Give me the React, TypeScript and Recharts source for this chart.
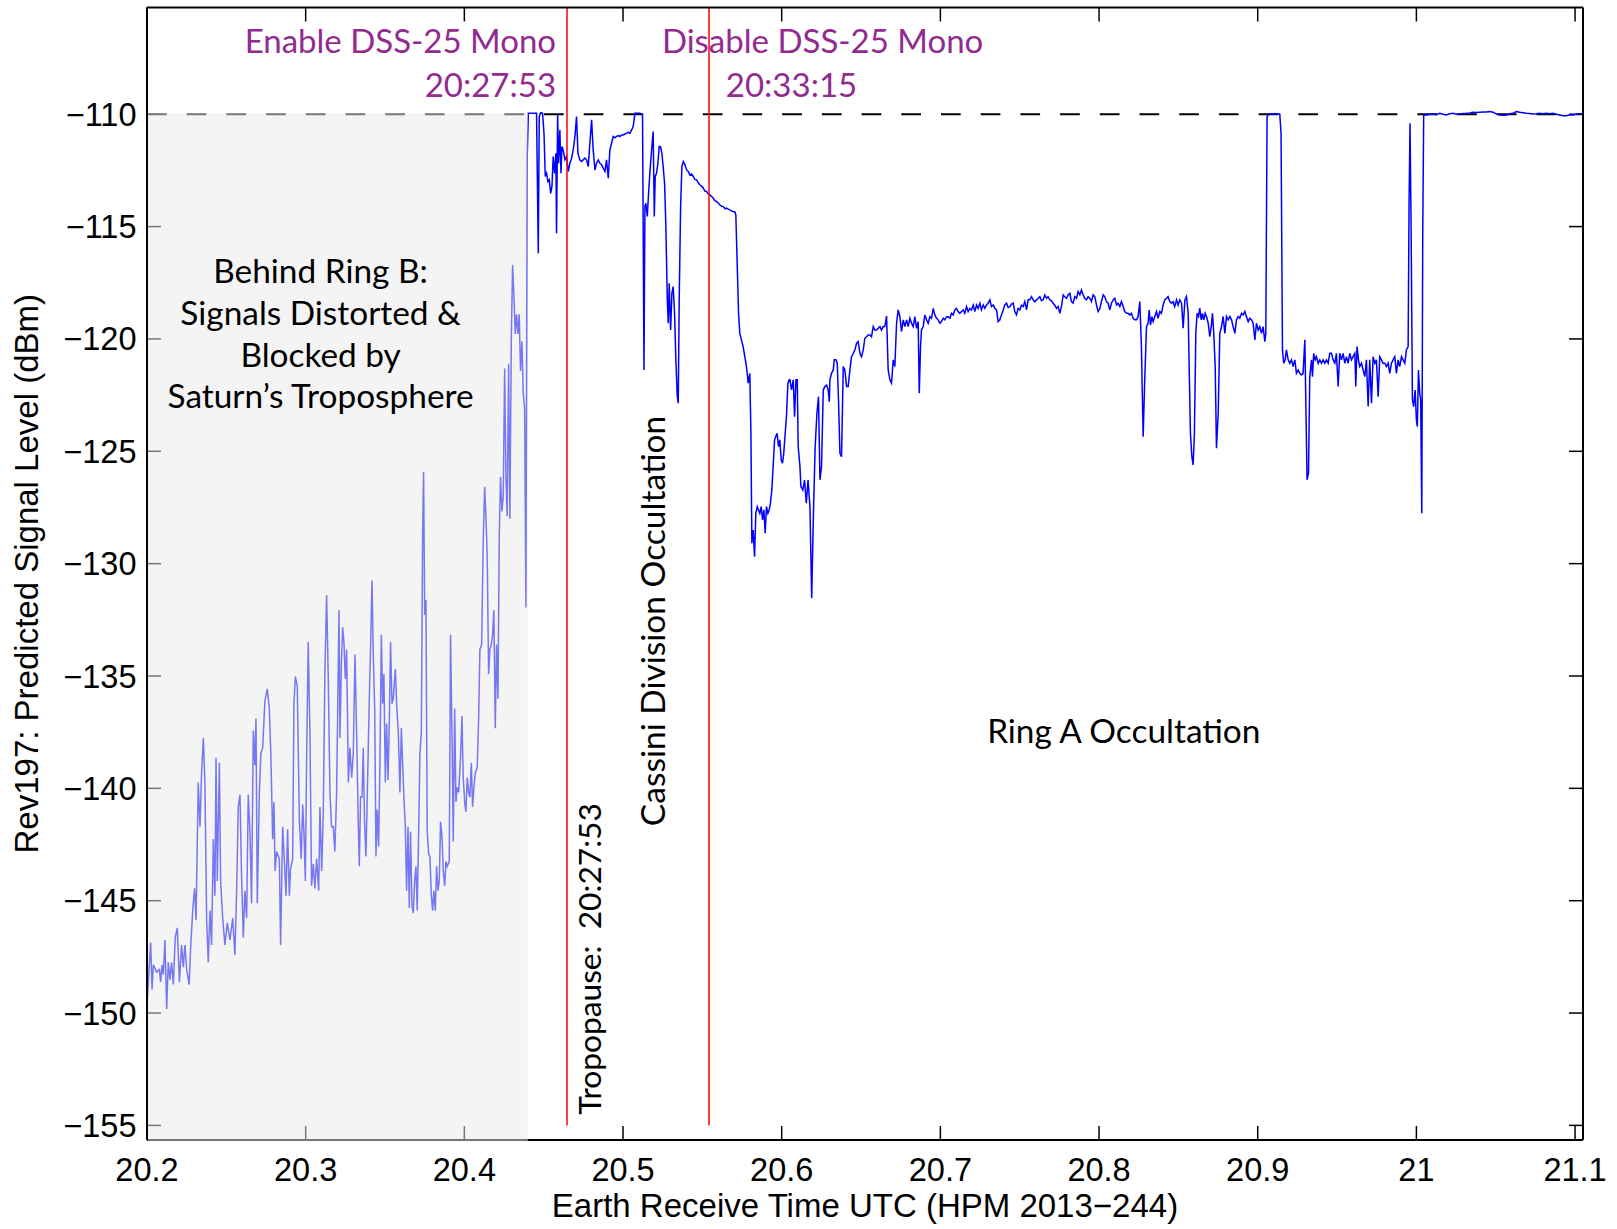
import React from "react";
import { LineChart, Line, XAxis, YAxis, ReferenceLine, ReferenceArea, ReferenceDot } from "recharts";

// Rev197 predicted signal level vs. Earth receive time (HPM, 2013-244)
const xTicks = [20.2, 20.3, 20.4, 20.5, 20.6, 20.7, 20.8, 20.9, 21.0, 21.1];
const yTicks = [-155, -150, -145, -140, -135, -130, -125, -120, -115, -110];
const xDomain = [20.2, 21.105];
const yDomain = [-155.65, -105.25];

const saturation = -110;
const tropopause = 20.4647; // 20:27:53
const monoOff = 20.5542; // 20:33:15
const ringBEnd = 20.44;

// behind ring B (faded by the shading)
const ringB: [number, number][] = [
  [20.2002,-149.39],[20.2023,-146.86],[20.2032,-148.95],[20.2040,-147.85],[20.2061,-148.18],[20.2078,-148.07],[20.2086,-148.62],[20.2095,-147.85],
  [20.2103,-148.29],[20.2113,-146.75],[20.2124,-149.82],[20.2134,-147.74],[20.2145,-148.51],[20.2155,-147.74],[20.2166,-148.73],[20.2178,-146.64],
  [20.2191,-146.21],[20.2204,-148.62],[20.2218,-146.97],[20.2229,-147.96],[20.2239,-146.97],[20.2250,-148.07],[20.2266,-148.73],[20.2275,-147.08],
  [20.2288,-145.44],[20.2300,-144.45],[20.2309,-145.87],[20.2323,-139.74],[20.2334,-141.71],[20.2344,-139.30],[20.2355,-137.76],[20.2365,-139.74],
  [20.2376,-145.87],[20.2386,-147.74],[20.2397,-145.44],[20.2407,-146.97],[20.2418,-142.26],[20.2428,-144.78],[20.2435,-138.64],[20.2443,-144.12],
  [20.2456,-138.86],[20.2464,-144.12],[20.2477,-145.77],[20.2491,-146.97],[20.2506,-145.99],[20.2523,-146.75],[20.2540,-145.77],[20.2554,-147.41],
  [20.2565,-144.56],[20.2575,-140.83],[20.2586,-140.29],[20.2596,-143.90],[20.2607,-146.64],[20.2617,-144.56],[20.2628,-145.77],[20.2638,-140.29],
  [20.2649,-141.93],[20.2659,-145.11],[20.2670,-137.43],[20.2680,-138.97],[20.2687,-136.89],[20.2695,-145.11],[20.2708,-140.18],[20.2718,-138.42],
  [20.2729,-138.20],[20.2743,-136.12],[20.2758,-135.57],[20.2771,-136.45],[20.2781,-138.64],[20.2792,-142.26],[20.2800,-140.61],[20.2807,-143.68],
  [20.2817,-142.81],[20.2834,-143.14],[20.2842,-146.97],[20.2855,-141.71],[20.2863,-142.81],[20.2876,-144.78],[20.2886,-141.82],[20.2897,-144.78],
  [20.2905,-143.57],[20.2918,-143.14],[20.2926,-136.23],[20.2935,-135.02],[20.2947,-135.46],[20.2960,-141.38],[20.2972,-143.14],[20.2981,-140.72],
  [20.2989,-141.93],[20.2998,-144.12],[20.3006,-138.64],[20.3016,-133.49],[20.3027,-137.54],[20.3037,-144.34],[20.3048,-143.36],[20.3058,-144.45],
  [20.3069,-143.14],[20.3082,-144.56],[20.3090,-140.83],[20.3101,-143.68],[20.3111,-141.05],[20.3121,-134.91],[20.3132,-131.40],[20.3142,-134.91],
  [20.3153,-140.18],[20.3163,-141.71],[20.3174,-141.71],[20.3184,-142.81],[20.3195,-140.18],[20.3210,-132.06],[20.3216,-137.76],[20.3225,-134.47],
  [20.3233,-132.83],[20.3241,-133.49],[20.3250,-135.13],[20.3258,-133.82],[20.3269,-139.74],[20.3279,-138.20],[20.3290,-139.52],[20.3300,-138.42],
  [20.3311,-134.04],[20.3321,-137.54],[20.3332,-141.71],[20.3338,-143.47],[20.3346,-140.39],[20.3355,-140.39],[20.3363,-138.20],[20.3371,-141.49],
  [20.3380,-143.03],[20.3388,-140.39],[20.3401,-136.01],[20.3409,-133.71],[20.3418,-130.75],[20.3426,-134.04],[20.3435,-136.45],[20.3443,-143.03],
  [20.3451,-140.94],[20.3460,-142.59],[20.3468,-138.86],[20.3477,-133.16],[20.3485,-136.23],[20.3493,-134.91],[20.3502,-139.74],[20.3510,-137.11],
  [20.3519,-139.63],[20.3527,-137.11],[20.3535,-133.49],[20.3544,-136.23],[20.3552,-136.01],[20.3565,-134.69],[20.3573,-136.23],[20.3584,-137.54],
  [20.3594,-140.18],[20.3603,-137.32],[20.3611,-138.86],[20.3619,-140.39],[20.3628,-141.71],[20.3636,-144.56],[20.3645,-141.71],[20.3653,-145.33],
  [20.3661,-141.93],[20.3670,-145.22],[20.3678,-145.55],[20.3687,-144.12],[20.3695,-143.47],[20.3703,-145.44],[20.3712,-141.93],[20.3720,-138.42],
  [20.3729,-137.54],[20.3737,-128.77],[20.3743,-125.92],[20.3750,-132.28],[20.3758,-131.62],[20.3766,-141.93],[20.3775,-142.92],[20.3783,-143.03],
  [20.3792,-144.78],[20.3800,-145.44],[20.3808,-144.56],[20.3817,-145.44],[20.3825,-143.47],[20.3834,-144.56],[20.3842,-144.12],[20.3850,-141.49],
  [20.3859,-142.15],[20.3867,-143.68],[20.3876,-144.34],[20.3884,-143.25],[20.3892,-143.47],[20.3905,-143.25],[20.3913,-133.16],[20.3922,-137.54],
  [20.3930,-142.37],[20.3939,-136.45],[20.3947,-140.61],[20.3955,-139.96],[20.3964,-140.18],[20.3976,-138.64],[20.3985,-136.78],[20.3993,-139.52],
  [20.4002,-140.61],[20.4010,-141.05],[20.4018,-139.52],[20.4027,-140.18],[20.4035,-140.39],[20.4044,-138.86],[20.4052,-140.83],[20.4060,-139.96],
  [20.4069,-139.30],[20.4081,-139.08],[20.4090,-136.89],[20.4098,-133.82],[20.4109,-133.60],[20.4119,-128.99],[20.4128,-126.58],[20.4136,-127.89],
  [20.4144,-129.65],[20.4153,-134.91],[20.4161,-133.82],[20.4170,-133.60],[20.4178,-133.16],[20.4186,-132.06],[20.4195,-137.32],[20.4203,-133.60],
  [20.4212,-136.01],[20.4220,-128.77],[20.4228,-126.14],[20.4237,-127.68],[20.4245,-127.02],[20.4254,-121.32],[20.4262,-126.14],[20.4270,-127.89],
  [20.4279,-121.10],[20.4287,-128.00],[20.4296,-120.00],[20.4304,-116.71],[20.4312,-118.03],[20.4321,-119.78],[20.4329,-118.90],[20.4338,-119.78],
  [20.4346,-118.90],[20.4354,-121.43],[20.4363,-120.11],[20.4371,-122.41],[20.4380,-123.07],[20.4388,-131.95],[20.4396,-112.00],
];

// tropopause and Cassini division
const cassini: [number, number][] = [
  [20.4403,-109.96],[20.4455,-109.96],[20.4466,-116.19],[20.4472,-110.10],[20.4481,-109.93],[20.4493,-109.96],[20.4502,-110.85],[20.4510,-112.77],
  [20.4518,-112.63],[20.4527,-113.00],[20.4535,-112.92],[20.4544,-113.52],[20.4552,-113.22],[20.4560,-111.88],[20.4569,-112.63],[20.4577,-111.74],
  [20.4581,-115.30],[20.4588,-110.03],[20.4594,-112.18],[20.4602,-110.70],[20.4609,-112.63],[20.4615,-111.44],[20.4623,-111.59],[20.4634,-112.03],
  [20.4644,-111.88],[20.4655,-112.55],[20.4665,-112.18],[20.4676,-111.96],[20.4686,-111.59],[20.4697,-110.99],[20.4707,-110.10],[20.4716,-111.74],
  [20.4728,-112.03],[20.4738,-112.10],[20.4749,-112.03],[20.4760,-111.95],[20.4770,-112.03],[20.4781,-112.33],[20.4791,-111.29],[20.4802,-110.25],
  [20.4812,-111.59],[20.4823,-112.48],[20.4833,-112.18],[20.4844,-112.03],[20.4854,-112.18],[20.4865,-112.25],[20.4875,-112.40],[20.4886,-112.55],
  [20.4896,-112.03],[20.4907,-112.85],[20.4917,-111.59],[20.4928,-111.29],[20.4938,-110.99],[20.4949,-111.05],[20.4959,-110.99],[20.4970,-110.95],
  [20.4980,-110.99],[20.4991,-110.92],[20.5001,-110.92],[20.5012,-110.88],[20.5022,-110.85],[20.5033,-110.80],[20.5043,-110.85],[20.5054,-110.70],
  [20.5064,-110.55],[20.5075,-109.96],[20.5106,-109.96],[20.5123,-110.03],[20.5132,-121.38],[20.5138,-114.11],[20.5144,-113.96],[20.5153,-114.55],
  [20.5161,-113.52],[20.5169,-112.63],[20.5180,-111.59],[20.5190,-110.77],[20.5197,-114.55],[20.5203,-112.77],[20.5211,-112.63],[20.5220,-112.18],
  [20.5228,-111.44],[20.5236,-111.44],[20.5245,-111.74],[20.5253,-112.33],[20.5262,-113.07],[20.5270,-115.00],[20.5279,-118.26],[20.5285,-119.30],
  [20.5291,-117.52],[20.5300,-119.60],[20.5308,-117.97],[20.5316,-117.67],[20.5325,-118.86],[20.5333,-120.93],[20.5342,-122.57],[20.5348,-122.86],
  [20.5354,-118.26],[20.5363,-114.11],[20.5371,-112.33],[20.5380,-112.11],[20.5390,-112.25],[20.5401,-112.48],[20.5411,-112.55],[20.5422,-112.70],
  [20.5432,-112.66],[20.5443,-112.77],[20.5453,-112.90],[20.5464,-112.92],[20.5474,-113.05],[20.5485,-113.15],[20.5495,-113.20],[20.5506,-113.29],
  [20.5516,-113.42],[20.5527,-113.44],[20.5537,-113.55],[20.5548,-113.59],[20.5558,-113.66],[20.5569,-113.74],[20.5579,-113.85],[20.5590,-113.89],
  [20.5600,-113.95],[20.5611,-114.04],[20.5621,-114.10],[20.5632,-114.11],[20.5642,-114.20],[20.5652,-114.18],[20.5663,-114.22],[20.5673,-114.26],
  [20.5684,-114.30],[20.5694,-114.33],[20.5705,-114.35],
];

// inner edge of ring A
const ringAEdge: [number, number][] = [
  [20.5711,-114.48],[20.5720,-116.78],[20.5728,-118.86],[20.5736,-119.75],[20.5757,-120.34],[20.5778,-121.23],[20.5789,-121.97],[20.5799,-121.53],
  [20.5806,-124.20],[20.5812,-129.09],[20.5820,-128.50],[20.5829,-129.69],[20.5837,-127.76],[20.5846,-127.46],[20.5854,-127.61],[20.5862,-127.76],
  [20.5871,-127.46],[20.5879,-128.05],[20.5888,-127.61],[20.5896,-128.65],[20.5904,-127.46],[20.5913,-127.76],[20.5921,-127.61],[20.5929,-127.31],
  [20.5938,-126.72],[20.5946,-125.68],[20.5955,-124.49],[20.5963,-124.34],[20.5971,-124.20],[20.5980,-124.79],[20.5988,-124.49],[20.5997,-125.38],
  [20.6005,-125.53],[20.6013,-125.09],[20.6022,-124.20],[20.6030,-123.45],[20.6039,-121.97],[20.6047,-121.82],[20.6052,-121.82],[20.6062,-122.27],
  [20.6073,-121.82],[20.6081,-123.46],[20.6090,-121.82],[20.6098,-121.82],[20.6104,-124.79],[20.6115,-125.68],[20.6121,-126.57],[20.6133,-126.72],
  [20.6144,-126.28],[20.6155,-127.31],[20.6166,-126.28],[20.6178,-127.46],[20.6189,-131.54],[20.6200,-127.76],[20.6211,-124.79],[20.6222,-123.31],
  [20.6232,-122.57],[20.6241,-126.27],[20.6251,-125.68],[20.6262,-122.27],[20.6272,-122.12],[20.6283,-122.05],[20.6293,-122.27],[20.6300,-122.79],
  [20.6304,-121.82],[20.6314,-121.53],[20.6325,-121.38],[20.6331,-120.93],[20.6342,-120.93],[20.6350,-121.08],[20.6358,-122.71],[20.6367,-125.09],
  [20.6377,-125.24],
];

// ring A body
const ringA: [number, number][] = [
  [20.6388,-121.23],[20.6398,-121.38],[20.6409,-122.12],[20.6419,-122.12],[20.6430,-121.38],[20.6440,-120.79],[20.6451,-120.64],[20.6461,-120.49],
  [20.6472,-120.19],[20.6482,-120.12],[20.6493,-120.64],[20.6503,-120.79],[20.6514,-120.49],[20.6524,-119.97],[20.6535,-119.90],[20.6545,-119.82],
  [20.6556,-119.82],[20.6566,-119.90],[20.6577,-119.45],[20.6587,-119.60],[20.6598,-119.60],[20.6608,-119.53],[20.6619,-119.45],[20.6629,-119.60],
  [20.6640,-119.45],[20.6650,-119.45],[20.6661,-118.98],[20.6671,-121.38],[20.6682,-121.82],[20.6692,-121.97],[20.6703,-120.93],[20.6713,-121.23],
  [20.6724,-119.30],[20.6734,-118.71],[20.6745,-119.01],[20.6755,-119.67],[20.6766,-119.15],[20.6776,-119.45],[20.6787,-119.15],[20.6797,-119.45],
  [20.6808,-119.08],[20.6818,-119.30],[20.6829,-119.45],[20.6839,-119.01],[20.6850,-119.53],[20.6860,-119.23],[20.6867,-122.42],[20.6875,-120.34],
  [20.6881,-119.60],[20.6892,-119.45],[20.6902,-118.93],[20.6913,-119.15],[20.6923,-119.30],[20.6934,-119.01],[20.6944,-119.08],[20.6955,-118.64],
  [20.6965,-118.93],[20.6976,-119.08],[20.6986,-119.15],[20.6997,-119.30],[20.7007,-119.23],[20.7018,-119.08],[20.7028,-119.15],[20.7039,-119.01],
  [20.7049,-119.01],[20.7060,-119.08],[20.7070,-118.86],[20.7081,-118.93],[20.7091,-118.71],[20.7102,-118.64],[20.7112,-118.78],[20.7123,-118.86],
  [20.7133,-118.78],[20.7144,-118.71],[20.7154,-118.86],[20.7165,-118.56],[20.7175,-118.78],[20.7186,-118.64],[20.7196,-118.71],[20.7207,-118.49],
  [20.7217,-118.78],[20.7228,-118.49],[20.7238,-118.64],[20.7249,-118.41],[20.7259,-118.71],[20.7270,-118.49],[20.7280,-118.64],[20.7291,-118.49],
  [20.7301,-118.41],[20.7312,-118.26],[20.7322,-118.56],[20.7333,-118.49],[20.7343,-118.64],[20.7354,-118.71],[20.7364,-119.23],[20.7375,-119.15],
  [20.7385,-118.93],[20.7396,-118.71],[20.7406,-118.49],[20.7417,-118.41],[20.7427,-118.60],[20.7438,-118.56],[20.7448,-118.45],[20.7459,-118.41],
  [20.7469,-118.78],[20.7480,-118.93],[20.7490,-118.64],[20.7501,-118.71],[20.7511,-118.50],[20.7522,-118.56],[20.7532,-118.34],[20.7543,-118.71],
  [20.7553,-118.26],[20.7564,-118.26],[20.7574,-118.12],[20.7585,-118.26],[20.7595,-118.35],[20.7606,-118.26],[20.7616,-118.20],[20.7627,-118.12],
  [20.7637,-118.30],[20.7648,-118.26],[20.7658,-118.04],[20.7669,-118.19],[20.7679,-118.12],[20.7690,-118.26],[20.7700,-118.30],[20.7711,-118.41],
  [20.7721,-118.50],[20.7732,-118.64],[20.7742,-118.56],[20.7753,-118.86],[20.7763,-118.56],[20.7774,-118.04],[20.7784,-118.12],[20.7795,-118.19],
  [20.7805,-118.04],[20.7816,-117.97],[20.7826,-118.34],[20.7837,-118.41],[20.7847,-118.12],[20.7858,-118.19],[20.7868,-117.89],[20.7879,-118.04],
  [20.7889,-117.82],[20.7900,-118.04],[20.7910,-118.19],[20.7921,-118.26],[20.7931,-118.12],[20.7942,-118.19],[20.7952,-118.34],[20.7963,-118.04],
  [20.7973,-118.12],[20.7984,-118.49],[20.7994,-118.78],[20.8005,-118.64],[20.8015,-118.34],[20.8026,-118.04],[20.8036,-118.12],[20.8047,-118.34],
  [20.8057,-118.41],[20.8068,-118.71],[20.8078,-118.41],[20.8089,-118.26],[20.8099,-118.19],[20.8110,-118.49],[20.8120,-118.41],[20.8131,-118.56],
  [20.8141,-118.34],[20.8152,-118.56],[20.8162,-118.78],[20.8173,-118.86],[20.8183,-118.86],[20.8194,-118.93],[20.8204,-118.86],[20.8215,-119.08],
  [20.8225,-119.15],[20.8236,-119.15],[20.8246,-119.01],[20.8257,-118.34],[20.8267,-120.34],[20.8278,-124.35],[20.8288,-121.82],[20.8299,-119.45],
  [20.8309,-119.30],[20.8316,-118.71],[20.8324,-119.38],[20.8333,-119.01],[20.8341,-119.23],[20.8351,-119.01],[20.8362,-118.78],[20.8372,-119.08],
  [20.8383,-118.78],[20.8393,-118.86],[20.8404,-118.49],[20.8414,-118.26],[20.8425,-118.19],[20.8435,-118.12],[20.8446,-118.34],[20.8456,-118.41],
  [20.8467,-118.34],[20.8477,-118.56],[20.8488,-118.26],[20.8498,-118.49],
];

// Encke gap region and egress
const egress: [number, number][] = [
  [20.8509,-118.26],[20.8520,-118.41],[20.8530,-119.52],[20.8541,-118.26],[20.8551,-118.11],[20.8562,-118.86],[20.8568,-121.23],[20.8576,-124.20],
  [20.8585,-125.24],[20.8593,-125.61],[20.8601,-124.20],[20.8610,-119.75],[20.8618,-118.86],[20.8627,-119.00],[20.8635,-118.63],[20.8644,-119.15],
  [20.8652,-118.86],[20.8660,-119.15],[20.8669,-118.86],[20.8677,-119.00],[20.8688,-119.30],[20.8698,-119.90],[20.8707,-119.45],[20.8715,-118.86],
  [20.8723,-119.75],[20.8732,-121.23],[20.8740,-124.86],[20.8751,-123.31],[20.8761,-119.75],[20.8772,-119.45],[20.8782,-119.00],[20.8793,-119.75],
  [20.8803,-119.00],[20.8814,-119.15],[20.8824,-119.00],[20.8835,-119.15],[20.8845,-119.45],[20.8856,-119.75],[20.8866,-119.15],[20.8877,-119.00],
  [20.8887,-119.08],[20.8898,-118.86],[20.8908,-118.93],[20.8919,-118.78],[20.8929,-119.00],[20.8940,-119.23],[20.8950,-119.08],[20.8961,-119.15],
  [20.8971,-119.30],[20.8982,-120.04],[20.8992,-119.30],[20.9003,-119.60],[20.9013,-119.45],[20.9024,-119.75],[20.9034,-119.45],[20.9045,-120.12],
  [20.9051,-119.75],[20.9059,-110.10],[20.9072,-109.99],[20.9139,-109.99],[20.9147,-110.85],[20.9156,-120.49],[20.9164,-121.08],[20.9173,-120.93],
  [20.9181,-120.49],[20.9192,-120.93],[20.9202,-121.08],[20.9213,-120.93],[20.9223,-121.23],[20.9234,-120.93],[20.9244,-121.53],[20.9255,-121.38],
  [20.9265,-121.53],[20.9276,-121.60],[20.9286,-121.53],[20.9297,-120.04],[20.9303,-122.71],[20.9311,-126.27],[20.9320,-125.98],[20.9328,-121.68],
  [20.9339,-120.93],[20.9345,-121.68],[20.9353,-120.64],[20.9362,-120.93],[20.9370,-120.79],[20.9381,-121.08],[20.9391,-120.93],[20.9402,-121.08],
  [20.9412,-120.93],[20.9423,-121.08],[20.9433,-120.93],[20.9444,-121.08],[20.9454,-120.64],[20.9465,-120.64],[20.9475,-120.93],[20.9486,-121.08],
  [20.9496,-120.64],[20.9507,-122.12],[20.9517,-120.64],[20.9528,-120.93],[20.9538,-120.64],[20.9549,-121.08],[20.9559,-120.79],[20.9570,-121.08],
  [20.9580,-120.64],[20.9591,-120.93],[20.9601,-120.79],[20.9612,-120.64],[20.9618,-122.12],[20.9626,-120.34],[20.9635,-120.93],[20.9643,-121.23],
  [20.9654,-121.08],[20.9664,-121.38],[20.9675,-121.68],[20.9685,-120.93],[20.9696,-123.01],[20.9706,-120.93],[20.9717,-122.86],[20.9727,-120.79],
  [20.9738,-121.08],[20.9748,-120.93],[20.9759,-122.57],[20.9769,-120.79],[20.9780,-120.93],[20.9790,-121.08],[20.9801,-121.08],[20.9811,-121.23],
  [20.9822,-121.08],[20.9832,-121.53],[20.9843,-121.08],[20.9853,-120.93],[20.9864,-120.79],[20.9874,-121.53],[20.9885,-120.93],[20.9895,-121.23],
  [20.9906,-120.79],[20.9916,-120.93],[20.9927,-121.08],[20.9937,-120.49],[20.9948,-120.34],[20.9954,-113.81],[20.9960,-110.40],[20.9967,-115.30],
  [20.9975,-122.71],[20.9983,-123.01],[20.9992,-122.27],[21.0000,-123.60],[21.0006,-123.90],[21.0013,-121.38],[21.0021,-122.42],[21.0027,-122.71],
  [21.0034,-127.76],[21.0040,-115.30],[21.0046,-110.03],[21.0063,-110.03],[21.0084,-110.00],[21.0105,-109.99],[21.0126,-110.02],[21.0147,-109.96],
  [21.0168,-110.00],[21.0189,-110.03],[21.0210,-109.98],[21.0231,-109.96],[21.0252,-110.00],[21.0273,-109.99],[21.0294,-109.97],[21.0315,-109.96],
  [21.0336,-109.94],[21.0357,-109.91],[21.0378,-109.92],[21.0399,-109.91],[21.0420,-109.90],[21.0441,-109.90],[21.0462,-109.88],[21.0483,-109.91],
  [21.0504,-109.99],[21.0525,-110.03],[21.0546,-110.04],[21.0567,-110.03],[21.0588,-109.98],[21.0609,-109.96],[21.0630,-109.88],[21.0651,-109.91],
  [21.0672,-109.93],[21.0693,-109.96],[21.0714,-109.97],[21.0735,-109.99],[21.0756,-109.98],[21.0777,-109.96],[21.0798,-109.98],[21.0819,-109.96],
  [21.0840,-109.98],[21.0861,-109.96],[21.0882,-110.00],[21.0903,-110.03],[21.0924,-110.07],[21.0945,-110.07],[21.0966,-110.03],[21.0987,-110.03],
  [21.1019,-109.99],[21.1040,-109.99],
];

const data = [...ringB, ...cassini, ...ringAEdge, ...ringA, ...egress].map(([t, level]) => ({ t, level }));

const W = 1617, H = 1229;
const margin = { top: 6.5, right: 33, bottom: 0, left: 0 };
const xAxisH = 89, yAxisW = 147;
const plotW = W - margin.right - 1 - yAxisW;
const plotH = H - margin.top - 1 - xAxisH;
// inward MATLAB style ticks, 14 px long, expressed in data units
const tickDx = (14 * (xDomain[1] - xDomain[0])) / plotW;
const tickDy = (14 * (yDomain[1] - yDomain[0])) / plotH;

const purple = "#922a8f";
const tickFont = "'Liberation Sans', Arial, Helvetica, sans-serif";
const noteFont = "Lato, 'Noto Sans', sans-serif";

type Note = {
  t: number; level: number; lines: string[];
  anchor: "start" | "middle" | "end"; color: string; size: number; gap?: number; rotate?: boolean;
};

const notes: Note[] = [
  { t: 20.4578, level: -107.29, lines: ["Enable DSS-25 Mono", "20:27:53"], anchor: "end", color: purple, size: 33, gap: 43.4 },
  { t: 20.5245, level: -107.29, lines: ["Disable DSS-25 Mono"], anchor: "start", color: purple, size: 33 },
  { t: 20.5648, level: -109.22, lines: ["20:33:15"], anchor: "start", color: purple, size: 33 },
  { t: 20.3094, level: -117.52, lines: ["Behind Ring B:", "Signals Distorted &", "Blocked by", "Saturn\u2019s Troposphere"], anchor: "middle", color: "#000", size: 33.4, gap: 41.7 },
  { t: 20.8156, level: -137.96, lines: ["Ring A Occultation"], anchor: "middle", color: "#000", size: 33.4 },
  { t: 20.5264, level: -132.55, lines: ["Cassini Division Occultation"], anchor: "middle", color: "#000", size: 33.5, rotate: true },
  { t: 20.4861, level: -154.53, lines: ["Tropopause:\u00a0\u00a020:27:53"], anchor: "start", color: "#000", size: 31.7, rotate: true },
];

const noteLabel = (n: Note) => (props: any) => {
  const vb = props.viewBox || {};
  const cx = (vb.x || 0) + (vb.width || 0) / 2;
  const cy = (vb.y || 0) + (vb.height || 0) / 2;
  return (
    <text x={cx} y={cy} textAnchor={n.anchor} fill={n.color} fontSize={n.size} fontFamily={noteFont}
      transform={n.rotate ? `rotate(-90 ${cx} ${cy})` : undefined}>
      {n.lines.map((l, i) => (
        <tspan key={i} x={cx} dy={i === 0 ? 0 : n.gap}>{l}</tspan>
      ))}
    </text>
  );
};

const xTitle = (props: any) => {
  const vb = props.viewBox;
  return (
    <text x={vb.x + vb.width / 2} y={vb.y + 77} textAnchor="middle" fontSize={33} fontFamily={tickFont} fill="#000">
      Earth Receive Time UTC (HPM 2013{"\u2212"}244)
    </text>
  );
};

const yTitle = (props: any) => {
  const vb = props.viewBox;
  const x = vb.x + 37.5;
  const y = vb.y + vb.height / 2;
  return (
    <text x={x} y={y} textAnchor="middle" fontSize={33} fontFamily={tickFont} fill="#000" transform={`rotate(-90 ${x} ${y})`}>
      Rev197: Predicted Signal Level (dBm)
    </text>
  );
};

const fmtX = (v: number) => String(Number(v.toFixed(1)));
const fmtY = (v: number) => (v < 0 ? "\u2212" + Math.abs(v) : String(v));
const frame = { stroke: "#000", strokeWidth: 2 };
const hiddenTickLine = { stroke: "none" };

export default function App() {
  return (
    <div style={{ position: "absolute", left: 0, top: 0, width: W, height: H, background: "#fff" }}>
      <LineChart width={W} height={H} data={data} margin={margin}>
        <XAxis dataKey="t" type="number" domain={xDomain} ticks={xTicks} allowDataOverflow interval={0} height={xAxisH}
          tickFormatter={fmtX} tick={{ fontSize: 32.5, fontFamily: tickFont, fill: "#000" }}
          tickSize={-14} tickMargin={32} axisLine={frame} tickLine={hiddenTickLine} label={xTitle} />
        <XAxis xAxisId="top" orientation="top" dataKey="t" type="number" domain={xDomain} ticks={xTicks}
          allowDataOverflow interval={0} height={1} tick={false} tickLine={false} axisLine={frame} />
        <YAxis type="number" domain={yDomain} ticks={yTicks} allowDataOverflow interval={0} width={yAxisW}
          tickFormatter={fmtY} tick={{ fontSize: 32.5, fontFamily: tickFont, fill: "#000" }}
          tickSize={-14} tickMargin={24.5} axisLine={frame} tickLine={hiddenTickLine} label={yTitle} />
        <YAxis yAxisId="right" orientation="right" type="number" domain={yDomain} ticks={yTicks}
          allowDataOverflow interval={0} width={1} tick={false} tickLine={false} axisLine={frame} />

        {xTicks.map((t) => (
          <ReferenceLine key={"xb" + t} segment={[{ x: t, y: yDomain[0] }, { x: t, y: yDomain[0] + tickDy }]} stroke="#000" strokeWidth={1.5} />
        ))}
        {xTicks.map((t) => (
          <ReferenceLine key={"xt" + t} segment={[{ x: t, y: yDomain[1] }, { x: t, y: yDomain[1] - tickDy }]} stroke="#000" strokeWidth={1.5} />
        ))}
        {yTicks.map((v) => (
          <ReferenceLine key={"yl" + v} segment={[{ x: xDomain[0], y: v }, { x: xDomain[0] + tickDx, y: v }]} stroke="#000" strokeWidth={1.5} />
        ))}
        {yTicks.map((v) => (
          <ReferenceLine key={"yr" + v} segment={[{ x: xDomain[1], y: v }, { x: xDomain[1] - tickDx, y: v }]} stroke="#000" strokeWidth={1.5} />
        ))}

        <ReferenceLine y={saturation} stroke="#000" strokeWidth={2} strokeDasharray="19.7 20" />
        <Line dataKey="level" type="linear" stroke="#0000ff" strokeWidth={1.5} dot={false} activeDot={false}
          isAnimationActive={false} />
        <ReferenceLine segment={[{ x: tropopause, y: -155 }, { x: tropopause, y: yDomain[1] }]} stroke="#ff0000" strokeWidth={1.5} />
        <ReferenceLine segment={[{ x: monoOff, y: -155 }, { x: monoOff, y: yDomain[1] }]} stroke="#ff0000" strokeWidth={1.5} />

        <ReferenceArea x1={20.2006} x2={ringBEnd} y1={-155.72} y2={-109.95} fill="#e9e9e9" fillOpacity={0.51}
          stroke="none" ifOverflow="visible" zIndex={550} />

        {notes.map((n, i) => (
          <ReferenceDot key={i} x={n.t} y={n.level} r={0} fill="none" stroke="none" label={noteLabel(n)} />
        ))}
      </LineChart>
    </div>
  );
}
